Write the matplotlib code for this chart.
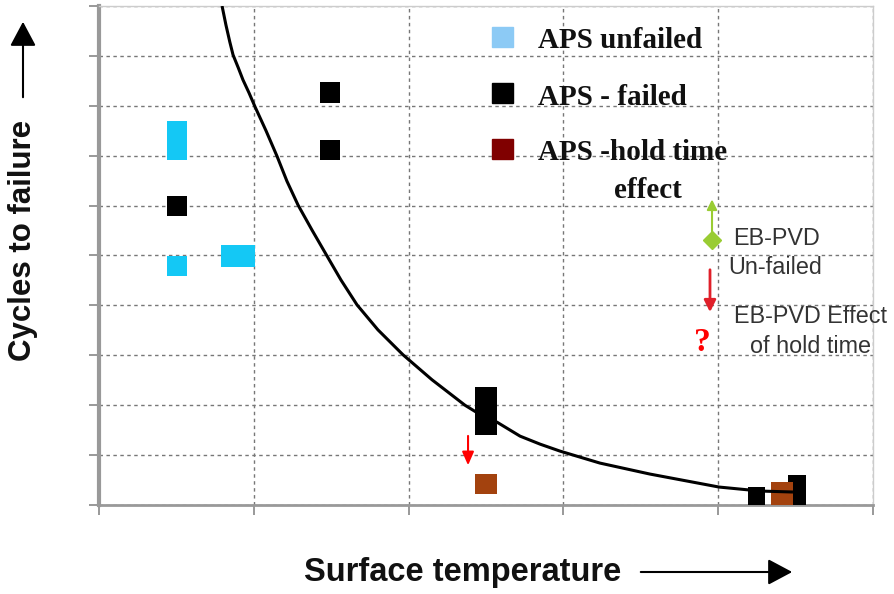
import numpy as np
import matplotlib
matplotlib.use("Agg")
import matplotlib.pyplot as plt

# box markers: left, right, low, high (data units, x 0-5, y 0-10)
cyan_x0 = [0.44, 0.44, 0.79]
cyan_x1 = [0.57, 0.57, 1.01]
cyan_y0 = [6.91, 4.59, 4.77]
cyan_y1 = [7.70, 4.99, 5.21]

black_x0 = [0.44, 1.43, 1.43, 2.43, 4.19, 4.45]
black_x1 = [0.57, 1.56, 1.56, 2.57, 4.30, 4.57]
black_y0 = [5.79, 8.06, 6.91, 1.40, 0.00, 0.00]
black_y1 = [6.19, 8.48, 7.31, 2.36, 0.36, 0.60]

brown_x0 = [2.43, 4.34]
brown_x1 = [2.57, 4.48]
brown_y0 = [0.22, 0.00]
brown_y1 = [0.62, 0.46]

# trend curve
curve_x = [0.795, 0.820, 0.845, 0.866, 0.900, 0.930, 0.969, 1.008, 1.079,
           1.150, 1.214, 1.286, 1.376, 1.473, 1.563, 1.667, 1.802, 1.964,
           2.151, 2.364, 2.500, 2.571, 2.720, 2.849, 2.978, 3.107, 3.236,
           3.559, 4.005, 4.270, 4.483]
curve_y = [10.0, 9.62, 9.28, 9.02, 8.76, 8.52, 8.26, 7.98, 7.50,
           6.99, 6.49, 6.01, 5.51, 4.99, 4.51, 4.01, 3.51, 3.01,
           2.51, 2.00, 1.74, 1.66, 1.38, 1.22, 1.08, 0.96, 0.84,
           0.62, 0.36, 0.28, 0.26]

legend_labels = ["APS unfailed", "APS - failed", "APS -hold time"]
legend_colors = ["#8ccaf5", "#000000", "#800000"]

W, H = 895, 594
fig = plt.figure(figsize=(W / 100, H / 100), dpi=100)
ax = fig.add_axes([99 / W, 1 - 505 / H, 774 / W, 499 / H])

ax.set_xlim(0, 5)
ax.set_ylim(0, 10)
ax.set_xticks(np.arange(0, 6))
ax.set_yticks(np.arange(0, 11))
ax.set_xticklabels([])
ax.set_yticklabels([])
ax.tick_params(length=7, width=1.2, color="#888888")
ax.grid(True, color="#777777", linestyle=(0, (2.5, 2.5)), linewidth=1.0, zorder=0)
ax.set_axisbelow(True)
for side in ["top", "right"]:
    ax.spines[side].set_color("#cccccc")
    ax.spines[side].set_linewidth(1.0)
ax.spines["left"].set_color("#999999")
ax.spines["left"].set_linewidth(3)
ax.spines["bottom"].set_color("#999999")
ax.spines["bottom"].set_linewidth(2)

def boxes(x0, x1, y0, y1, color):
    x0, x1, y0, y1 = map(np.array, (x0, x1, y0, y1))
    ax.bar(x0, y1 - y0, width=x1 - x0, bottom=y0, align="edge",
           color=color, edgecolor="none", zorder=3)

boxes(cyan_x0, cyan_x1, cyan_y0, cyan_y1, "#14c8f5")
boxes(black_x0, black_x1, black_y0, black_y1, "#000000")
boxes(brown_x0, brown_x1, brown_y0, brown_y1, "#a3420e")

ax.plot(curve_x, curve_y, color="black", linewidth=2.2, zorder=4,
        solid_joinstyle="round", solid_capstyle="butt")

# legend drawn by hand
serif = dict(family="Liberation Serif", fontweight="bold", fontsize=21,
             color="#111111")
leg_y = [9.36, 8.23, 7.12]
for yy, lab, col in zip(leg_y, legend_labels, legend_colors):
    ax.add_patch(plt.Rectangle((2.54, yy - 0.18), 0.135, 0.4, color=col,
                               zorder=5, clip_on=False))
    ax.text(2.836, yy - 0.06, lab, va="center", ha="left", zorder=6, **serif)
ax.text(3.547, 6.31, "effect", va="center", ha="center", zorder=6, **serif)

# EB-PVD annotations
ax.annotate("", xy=(3.96, 6.18), xytext=(3.96, 5.31),
            arrowprops=dict(arrowstyle="-|>,head_width=0.3,head_length=0.6",
                            color="#99cc33", lw=1.5), zorder=6)
ax.plot([3.96], [5.31], marker="D", color="#99cc33", markersize=9, zorder=6)
ax.annotate("", xy=(3.947, 3.81), xytext=(3.947, 4.77),
            arrowprops=dict(arrowstyle="-|>,head_width=0.35,head_length=0.7",
                            color="#e0202a", lw=2), zorder=6)
ax.annotate("", xy=(2.384, 0.74), xytext=(2.384, 1.44),
            arrowprops=dict(arrowstyle="-|>,head_width=0.35,head_length=0.8",
                            color="#ff0000", lw=1.5), zorder=6)
ax.text(3.895, 3.25, "?", color="#ff0000", family="Liberation Serif",
        fontweight="bold", fontsize=24, ha="center", va="center", zorder=6)

sans = dict(family="Liberation Sans", fontsize=16.8, color="#333333",
            va="center", ha="left", zorder=6)
ax.text(4.096, 5.35, "EB-PVD", **sans)
ax.text(4.063, 4.75, "Un-failed", **sans)
ax.text(4.103, 3.77, "EB-PVD Effect", clip_on=False, **sans)
ax.text(4.205, 3.17, "of hold time", **sans)

# axis titles with arrows
fig.text(23 / W, 1 - 240 / H, "Cycles to failure", rotation=90,
         family="Liberation Sans", fontweight="bold", fontsize=22.5,
         ha="center", va="center", color="#111111")
fig.text(463 / W, 1 - 573 / H, "Surface temperature",
         family="Liberation Sans", fontweight="bold", fontsize=23.5,
         ha="center", va="center", color="#111111")
fig.patches.append(matplotlib.patches.FancyArrowPatch(
    (23 / W, 1 - 100 / H), (23 / W, 1 - 19 / H), transform=fig.transFigure,
    arrowstyle="-|>,head_width=4,head_length=7.5", color="black", lw=1.5,
    mutation_scale=2))
fig.patches.append(matplotlib.patches.FancyArrowPatch(
    (638 / W, 1 - 572 / H), (795 / W, 1 - 572 / H), transform=fig.transFigure,
    arrowstyle="-|>,head_width=4,head_length=7.5", color="black", lw=1.5,
    mutation_scale=2))

fig.savefig("out.png", dpi=100)
